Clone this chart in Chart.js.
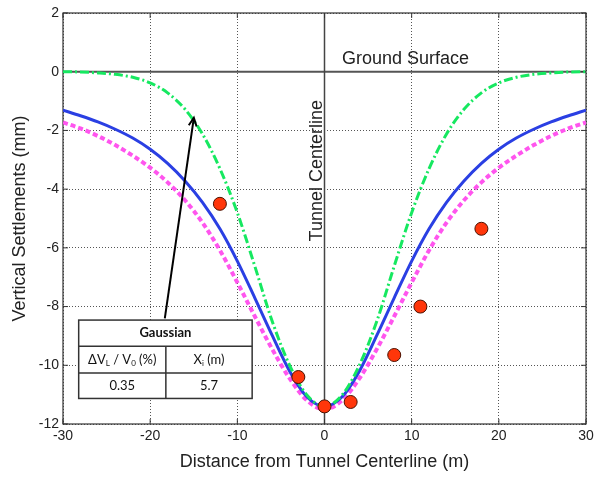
<!DOCTYPE html>
<html><head><meta charset="utf-8">
<script src="https://cdn.jsdelivr.net/npm/chart.js@4.4.1/dist/chart.umd.min.js"></script>
<style>html,body{margin:0;padding:0;background:#fff}canvas{display:block}</style>
</head><body>
<canvas id="c" width="613" height="479"></canvas>
<script>
// Distance from tunnel centerline (m)
const distances = [-30,-28,-26,-24,-22,-20,-18,-16,-14,-12,-10,-8,-6,-4,-2,0,2,4,6,8,10,12,14,16,18,20,22,24,26,28,30];
// Green dash-dot curve (mm)
const greenCurve = [0,-0.01,-0.04,-0.09,-0.19,-0.38,-0.72,-1.28,-2.12,-3.3,-4.8,-6.62,-8.5,-10.0,-11.02,-11.4,-11.02,-10.0,-8.5,-6.62,-4.8,-3.3,-2.12,-1.28,-0.72,-0.38,-0.19,-0.09,-0.04,-0.01,0];
// Blue solid curve (mm)
const blueCurve = [-1.31,-1.5,-1.71,-1.96,-2.26,-2.64,-3.12,-3.72,-4.45,-5.35,-6.45,-7.7,-8.98,-10.2,-11.08,-11.4,-11.08,-10.2,-8.98,-7.7,-6.45,-5.35,-4.45,-3.72,-3.12,-2.64,-2.26,-1.96,-1.71,-1.5,-1.31];
// Magenta dotted curve (mm)
const magentaCurve = [-1.73,-1.93,-2.19,-2.5,-2.86,-3.27,-3.77,-4.38,-5.14,-6.08,-7.18,-8.33,-9.45,-10.45,-11.2,-11.5,-11.2,-10.45,-9.45,-8.33,-7.18,-6.08,-5.14,-4.38,-3.77,-3.27,-2.86,-2.5,-2.19,-1.93,-1.73];
// Measured points
const measuredX = [-12,-3,0,3,8,11,18];
const measuredY = [-4.5,-10.4,-11.4,-11.25,-9.65,-8.0,-5.35];
// Axis ticks
const xTicks = [-30,-20,-10,0,10,20,30];
const yTicks = [-12,-10,-8,-6,-4,-2,0,2];
// Table texts
const tableTitle = 'Gaussian';
const tableHead = ['ΔV|L| / V|0| (%)', 'X|i| (m)'];
const tableVals = ['0.35', '5.7'];

const FONT = '"Liberation Sans", Arial, sans-serif';
const TFONT = 'Lato, "Open Sans", sans-serif';
const toXY = (xs, ys) => xs.map((v, i) => ({x: v, y: ys[i]}));

function richRuns(s){ // '|..|' marks subscript
  const parts = s.split('|'); return parts.map((t,i)=>({t, sub: i%2===1})).filter(r=>r.t.length);
}
function drawRich(ctx, s, cx, cy, size){
  const runs = richRuns(s); let w = 0;
  runs.forEach(r=>{ ctx.font = (r.sub? Math.round(size*0.62): size)+'px ' + TFONT; r.w = ctx.measureText(r.t).width; w += r.w; });
  let xx = cx - w/2; ctx.textAlign='left'; ctx.textBaseline='middle';
  runs.forEach(r=>{ ctx.font = (r.sub? Math.round(size*0.62): size)+'px ' + TFONT; ctx.fillText(r.t, xx, cy + (r.sub? 3.5:0)); xx += r.w; });
}

const annot = {
  id: 'annot',
  beforeDatasetsDraw(chart){
    const {ctx, chartArea:a, scales:{x, y}} = chart;
    ctx.save();
    const ln = (x1,y1,x2,y2)=>{ctx.beginPath();ctx.moveTo(x1,y1);ctx.lineTo(x2,y2);ctx.stroke();};
    ctx.setLineDash([]);
    ctx.strokeStyle = '#555'; ctx.lineWidth = 2;
    ln(a.left, y.getPixelForValue(0), a.right, y.getPixelForValue(0));
    ctx.strokeStyle = '#444'; ctx.lineWidth = 1.5;
    ln(x.getPixelForValue(0), a.top, x.getPixelForValue(0), a.bottom);
    ctx.strokeStyle = '#333'; ctx.lineWidth = 1;
    xTicks.forEach(t=>{ const p = x.getPixelForValue(t); ln(p, a.bottom, p, a.bottom-5); ln(p, a.top, p, a.top+5); });
    yTicks.forEach(t=>{ const p = y.getPixelForValue(t); ln(a.left, p, a.left+5, p); ln(a.right, p, a.right-5, p); });
    ctx.lineWidth = 1.2; ctx.strokeStyle = '#333';
    ctx.strokeRect(a.left, a.top, a.width, a.height);
    // labels
    ctx.fillStyle = '#222'; ctx.font = '18px ' + FONT; ctx.textAlign = 'left'; ctx.textBaseline = 'alphabetic';
    ctx.fillText('Ground Surface', x.getPixelForValue(2.0), y.getPixelForValue(0.26));
    ctx.save();
    ctx.translate(x.getPixelForValue(-0.25), y.getPixelForValue(-5.78));
    ctx.rotate(-Math.PI/2);
    ctx.fillText('Tunnel Centerline', 0, 0);
    ctx.restore();
    ctx.restore();
  },
  afterDatasetsDraw(chart){
    const {ctx, scales:{x, y}} = chart;
    ctx.save();
    ctx.setLineDash([]);
    const L = x.getPixelForValue(-28.2), R = x.getPixelForValue(-8.3), M = x.getPixelForValue(-18.2);
    const T = y.getPixelForValue(-8.46), r1 = y.getPixelForValue(-9.35), r2 = y.getPixelForValue(-10.26), B = y.getPixelForValue(-11.13);
    ctx.fillStyle = '#fff'; ctx.fillRect(L, T, R-L, B-T);
    ctx.strokeStyle = '#333'; ctx.lineWidth = 1.5;
    ctx.strokeRect(L, T, R-L, B-T);
    ctx.beginPath(); ctx.moveTo(L, r1); ctx.lineTo(R, r1); ctx.moveTo(L, r2); ctx.lineTo(R, r2); ctx.moveTo(M, r1); ctx.lineTo(M, B); ctx.stroke();
    ctx.fillStyle = '#111';
    ctx.font = 'bold 13px ' + TFONT; ctx.textAlign='center'; ctx.textBaseline='middle';
    ctx.fillText(tableTitle, (L+R)/2, (T+r1)/2);
    drawRich(ctx, tableHead[0], (L+M)/2, (r1+r2)/2, 13);
    drawRich(ctx, tableHead[1], (M+R)/2, (r1+r2)/2, 13);
    drawRich(ctx, tableVals[0], (L+M)/2, (r2+B)/2, 13);
    drawRich(ctx, tableVals[1], (M+R)/2, (r2+B)/2, 13);
    // arrow
    const x1 = x.getPixelForValue(-18.32), y1 = y.getPixelForValue(-8.4);
    const x2 = x.getPixelForValue(-14.99), y2 = y.getPixelForValue(-1.57);
    ctx.strokeStyle = '#000'; ctx.lineWidth = 2;
    ctx.beginPath(); ctx.moveTo(x1, y1); ctx.lineTo(x2, y2); ctx.stroke();
    const ang = Math.atan2(y2-y1, x2-x1), hl = 9, ha = 0.45;
    ctx.beginPath();
    ctx.moveTo(x2 - hl*Math.cos(ang-ha), y2 - hl*Math.sin(ang-ha));
    ctx.lineTo(x2, y2);
    ctx.lineTo(x2 - hl*Math.cos(ang+ha), y2 - hl*Math.sin(ang+ha));
    ctx.stroke();
    ctx.restore();
  }
};

new Chart(document.getElementById('c'), {
  type: 'line',
  data: { datasets: [
    { type:'scatter', label:'Measured', data: toXY(measuredX, measuredY), order:0,
      pointRadius:6.5, pointHoverRadius:6.5, pointBackgroundColor:'#ff360a', pointBorderColor:'#4a1000', pointBorderWidth:1, showLine:false },
    { label:'Green', data: toXY(distances, greenCurve), order:1, borderColor:'#16e860', borderWidth:3,
      borderDash:[9,3,2,3], pointRadius:0, cubicInterpolationMode:'monotone', fill:false },
    { label:'Blue', data: toXY(distances, blueCurve), order:2, borderColor:'#2a3fe3', borderWidth:3,
      pointRadius:0, cubicInterpolationMode:'monotone', fill:false },
    { label:'Magenta', data: toXY(distances, magentaCurve), order:3, borderColor:'#ff55ee', borderWidth:4,
      borderDash:[5,3], pointRadius:0, cubicInterpolationMode:'monotone', fill:false }
  ]},
  options: {
    responsive:false, animation:false, devicePixelRatio:1,
    layout:{ padding:{ top:13, right:27, left:0, bottom:0 } },
    plugins:{ legend:{display:false}, tooltip:{enabled:false} },
    scales:{
      x:{ type:'linear', min:-30, max:30,
        afterBuildTicks(s){ s.ticks = xTicks.map(v=>({value:v})); },
        afterFit(s){ s.height = 55; },
        ticks:{ padding:4, color:'#222', font:{family:FONT, size:14}, maxRotation:0 },
        grid:{ color:'#555', lineWidth:1, drawTicks:false },
        border:{ display:false, dash:[1,2] },
        title:{ display:true, text:'Distance from Tunnel Centerline (m)', color:'#222', font:{family:FONT, size:18}, padding:{top:0, bottom:6} } },
      y:{ type:'linear', min:-12, max:2,
        afterBuildTicks(s){ s.ticks = yTicks.map(v=>({value:v})); },
        afterFit(s){ s.width = 63; },
        ticks:{ padding:4, color:'#222', font:{family:FONT, size:14} },
        grid:{ color:'#555', lineWidth:1, drawTicks:false },
        border:{ display:false, dash:[1,2] },
        title:{ display:true, text:'Vertical Settlements (mm)', color:'#222', font:{family:FONT, size:18}, padding:{top:9, bottom:0} } }
    }
  },
  plugins:[annot]
});
</script>
</body></html>
